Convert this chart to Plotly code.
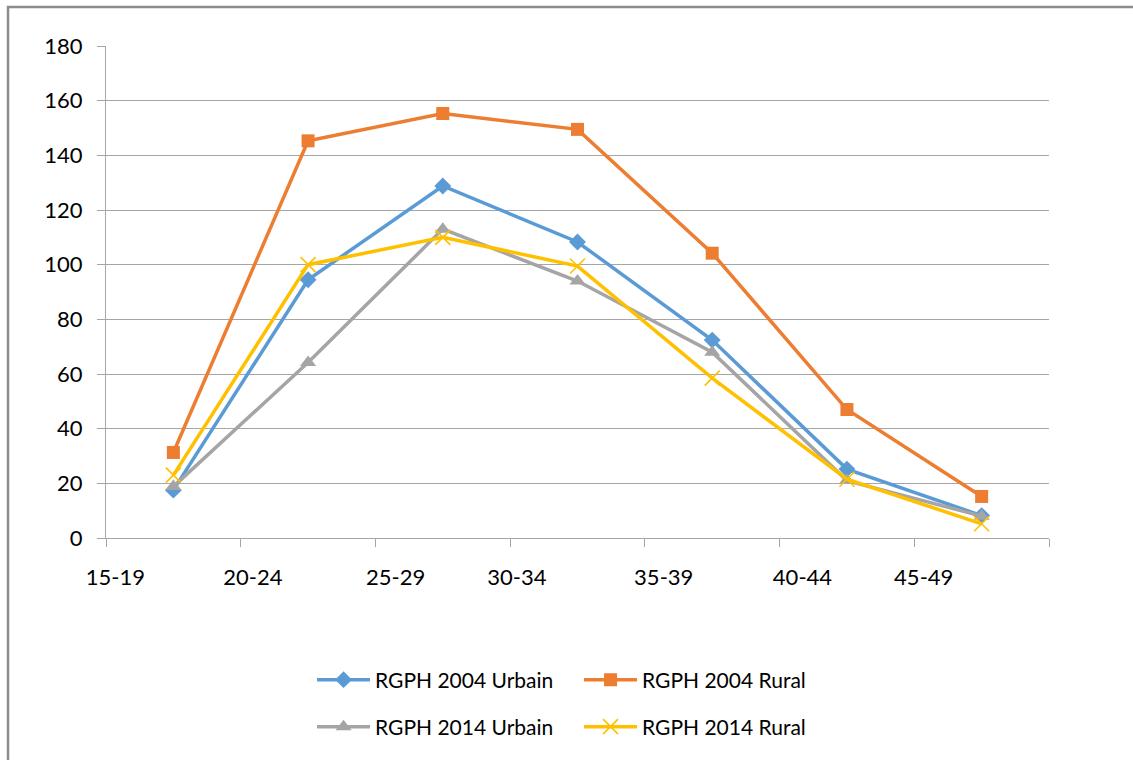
import plotly.graph_objects as go

categories = ["15-19", "20-24", "25-29", "30-34", "35-39", "40-44", "45-49"]
urbain_2004 = [17.5, 94.5, 128.8, 108.3, 72.4, 25.2, 8.2]
rural_2004 = [31.3, 145.3, 155.3, 149.5, 104.2, 47.0, 15.2]
urbain_2014 = [18.8, 64.2, 113.0, 94.0, 68.0, 21.0, 8.0]
rural_2014 = [23.0, 100.0, 110.0, 99.5, 58.5, 21.5, 5.2]

# points sit in the middle of each category slot
x_pts = [i + 0.5 for i in range(len(categories))]
# label anchor positions as drawn in the original (slightly offset from ticks)
label_pos = [0.07, 1.09, 2.15, 3.05, 4.14, 5.17, 6.07]

FONT = "Lato"
GRID = "#a6a6a6"

fig = go.Figure()
series = [
    ("RGPH 2004 Urbain", urbain_2004, "#5b9bd5", dict(symbol="diamond", size=13), "legend"),
    ("RGPH 2004 Rural", rural_2004, "#ed7d31", dict(symbol="square", size=13), "legend"),
    ("RGPH 2014 Urbain", urbain_2014, "#a5a5a5", dict(symbol="triangle-up", size=14), "legend2"),
    ("RGPH 2014 Rural", rural_2014, "#ffc000", dict(symbol="x-thin-open", size=15, line=dict(width=1.6, color="#ffc000")), "legend2"),
]
for name, vals, color, marker, leg in series:
    m = dict(color=color, **marker)
    fig.add_trace(go.Scatter(
        x=x_pts, y=vals, name=name, mode="lines+markers",
        line=dict(color=color, width=3.5), marker=m, legend=leg,
    ))

leg_common = dict(orientation="h", xanchor="left", yanchor="middle",
                  entrywidth=199, itemwidth=53,
                  font=dict(family=FONT, size=21, color="#000"),
                  bgcolor="rgba(0,0,0,0)", tracegroupgap=0)

fig.update_layout(
    width=1133, height=760,
    margin=dict(l=106, r=84, t=46, b=222),
    paper_bgcolor="white", plot_bgcolor="white",
    font=dict(family=FONT, size=22, color="#000000"),
    showlegend=True,
    legend=dict(x=0.2185, y=-0.2886, **leg_common),
    legend2=dict(x=0.2185, y=-0.3841, **leg_common),
    xaxis=dict(
        range=[0, 7], tickmode="array", tickvals=label_pos, ticktext=categories,
        ticks="", showgrid=False, zeroline=False, showline=True, linecolor=GRID, linewidth=1.3,
        ticklabelstandoff=19, tickfont=dict(family=FONT, size=22, color="#000"),
        minor=dict(tickmode="array", tickvals=list(range(8)), ticks="outside", ticklen=8,
                   tickcolor=GRID, tickwidth=1.3, showgrid=False),
    ),
    yaxis=dict(
        range=[0, 180], tickmode="linear", tick0=0, dtick=20,
        ticks="outside", ticklen=8, tickcolor=GRID, tickwidth=1.3,
        showgrid=True, gridcolor=GRID, gridwidth=1.3,
        zeroline=False, showline=True, linecolor=GRID, linewidth=1.3,
        ticklabelstandoff=10, tickfont=dict(family=FONT, size=22, color="#000"),
    ),
    shapes=[dict(type="rect", xref="paper", yref="paper",
                 x0=-0.1039, x1=1.3, y0=-0.6, y1=1.0793,
                 line=dict(color="#8c8c8c", width=2.5), fillcolor="rgba(0,0,0,0)", layer="below")],
)

fig.write_html("out.html",
               config={"displayModeBar": False},
               post_script="document.body.style.margin='0';document.body.style.overflow='hidden';")
